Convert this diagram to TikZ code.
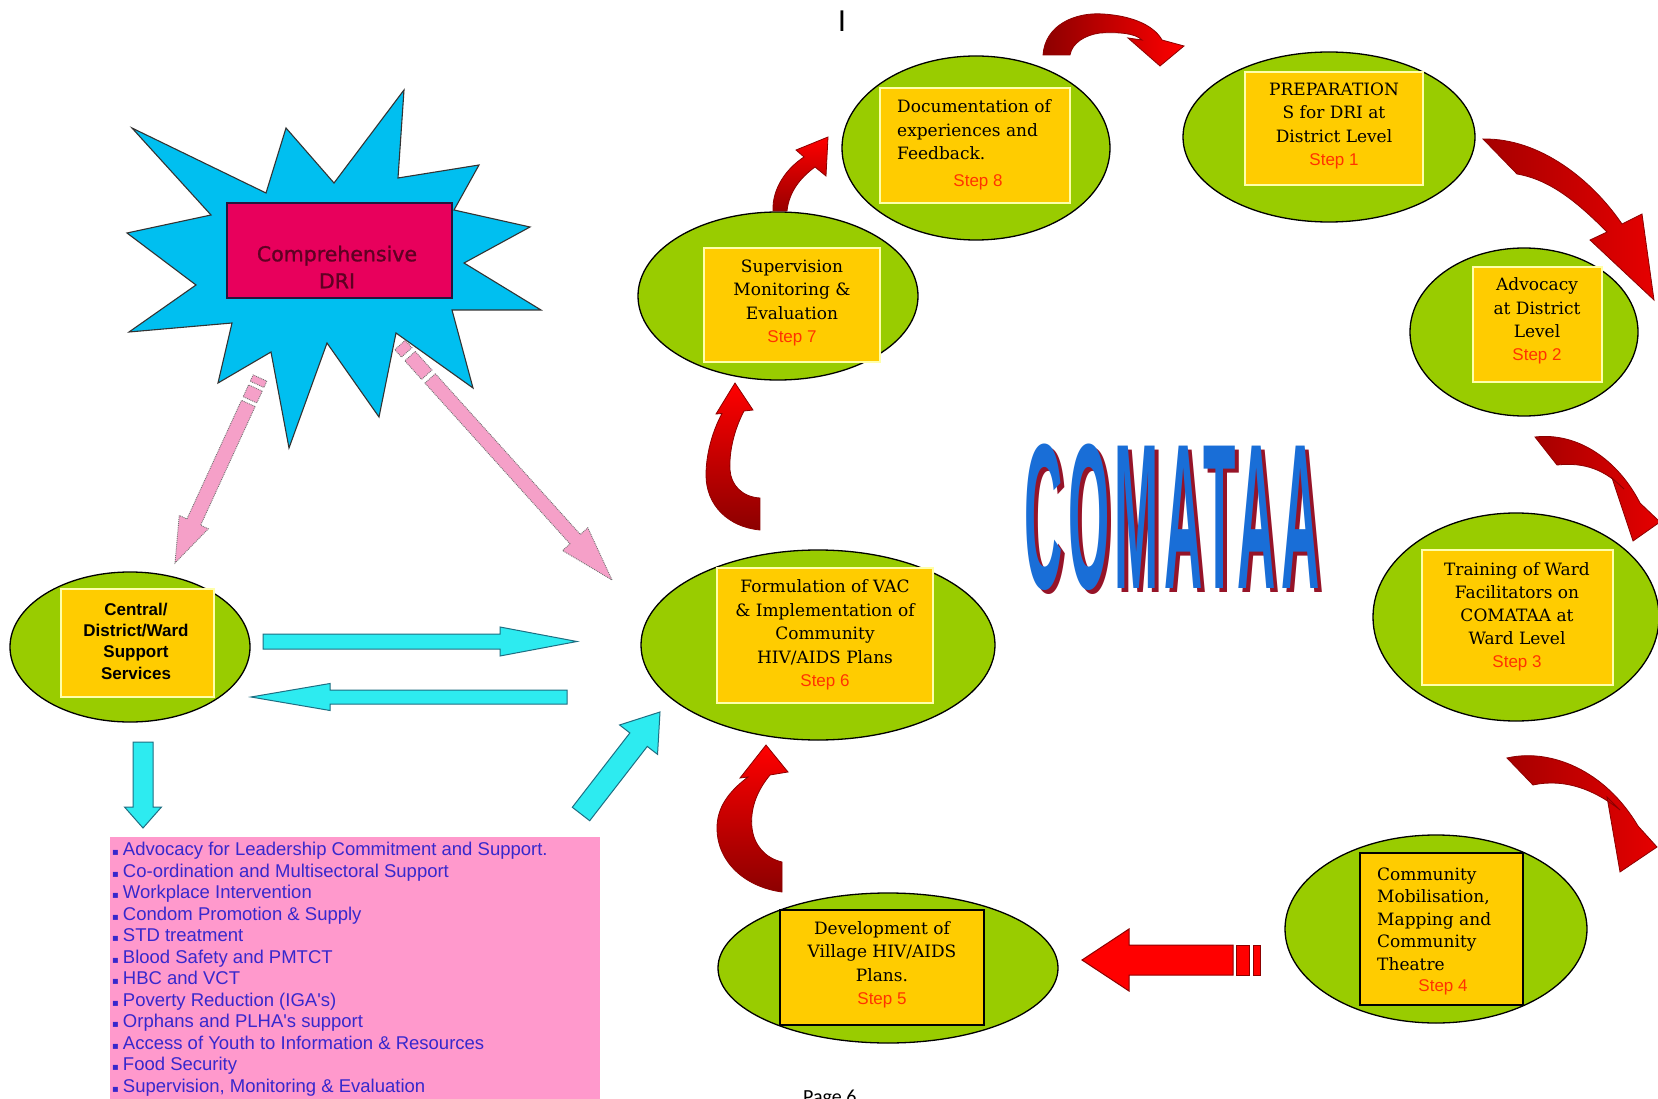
\documentclass[tikz,border=0pt]{standalone}
\usepackage{fontspec}
\usepackage{graphicx}
\setmainfont{DejaVu Serif}
\newfontfamily\lsans{Liberation Sans}
\newfontfamily\dsans{DejaVu Sans}
\newfontfamily\dsansfb{DejaVu Sans}[FakeBold=1.2]
\newfontfamily\comfont{Liberation Sans}[LetterSpace=10]
\newfontfamily\carl{Carlito}
\usetikzlibrary{calc,shapes.geometric}
\definecolor{cGreen}{RGB}{153,204,0}
\definecolor{cYel}{RGB}{255,204,0}
\definecolor{cYelBd}{RGB}{255,255,170}
\definecolor{cStep}{RGB}{255,51,0}
\definecolor{cBurst}{RGB}{0,191,240}
\definecolor{cDri}{RGB}{232,0,92}
\definecolor{cDriTxt}{RGB}{95,0,35}
\definecolor{cPinkArr}{RGB}{245,160,200}
\definecolor{cCyan}{RGB}{45,235,240}
\definecolor{cCyanBd}{RGB}{30,110,130}
\definecolor{cList}{RGB}{255,153,204}
\definecolor{cListTxt}{RGB}{55,40,205}
\definecolor{cBlue}{RGB}{25,110,215}
\definecolor{cShadow}{RGB}{150,20,40}
\definecolor{cRedBd}{RGB}{140,0,0}
\newcommand\stp[1]{{\lsans\color{cStep}Step #1}}
\newcommand\bul{{\dsans\fontsize{10}{10}\selectfont ▪}\hspace{4pt}}
% #1 style, #2 start, #3 tip, #4 shaft half width, #5 head half width, #6 head length
\newcommand\blockarrow[6]{%
  \path ($(#3)!#6!(#2)$) coordinate (hb);
  \path[#1] ($(#2)!#4!90:(#3)$) -- ($(hb)!#4!90:(#3)$) -- ($(hb)!#5!90:(#3)$) -- (#3)
    -- ($(hb)!#5!-90:(#3)$) -- ($(hb)!#4!-90:(#3)$) -- ($(#2)!#4!-90:(#3)$) -- cycle;}
% #1 style, #2 start, #3 direction point, #4 d1, #5 d2, #6 half width
\newcommand\pseg[6]{%
  \path ($(#2)!#4!(#3)$) coordinate (sa) ($(#2)!#5!(#3)$) coordinate (sb);
  \path[#1] ($(sa)!#6!90:(#3)$) -- ($(sb)!#6!90:(#3)$) -- ($(sb)!#6!-90:(#3)$) -- ($(sa)!#6!-90:(#3)$) -- cycle;}
\begin{document}
\begin{tikzpicture}[x=1pt,y=-1pt,
  ell/.style={ellipse, draw=black, line width=1.3pt, fill=cGreen, inner sep=0pt},
  ybox/.style={draw=cYelBd, line width=1.6pt, fill=cYel, inner sep=0pt},
  kbox/.style={draw=black, line width=1.3pt, fill=cYel, inner sep=0pt},
  stxt/.style={font=\fontsize{17}{23.5}\selectfont, align=center, inner sep=0pt, text=black},
  pinkarr/.style={fill=cPinkArr, draw=black!55, densely dotted, line width=0.9pt},
  cyanarr/.style={fill=cCyan, draw=cCyanBd, line width=1pt},
  redarr/.style={draw=cRedBd, line width=0.8pt},
  redsolid/.style={fill=red, draw=cRedBd, line width=1pt},
  burst/.style={fill=cBurst, draw=black!80, line width=1.1pt}]
\useasboundingbox (0,0) rectangle (1658,1099);
\fill[white] (0,0) rectangle (1658,1099);

% ---------- starburst ----------
\path[burst] (132,128) -- (266,193) -- (286,128) -- (334,183) -- (404,90) -- (398,178)
  -- (479,165) -- (454,210) -- (530,227) -- (464,263) -- (541,310) -- (452,310)
  -- (473,388) -- (396,333) -- (379,417) -- (327,343) -- (289,448) -- (271,352)
  -- (218,383) -- (232,323) -- (129,332) -- (196,285) -- (127,233) -- (211,215) -- cycle;
\node[draw={rgb,255:red,40;green,20;blue,60}, line width=1.2pt, fill=cDri, minimum width=225pt, minimum height=95pt, inner sep=0pt] (dri) at (339.5,250.5) {};
\node[font=\dsansfb\fontsize{20.5}{27}\selectfont, text=cDriTxt, align=center, inner sep=0pt] (drit) at (337,267) {Comprehensive\\DRI};

% ---------- pink arrows ----------
\coordinate (pl0) at (260,378); \coordinate (pl1) at (175,563);
\pseg{pinkarr}{pl0}{pl1}{0pt}{7pt}{7.5pt}
\pseg{pinkarr}{pl0}{pl1}{11pt}{24pt}{7.5pt}
\path ($(pl0)!28pt!(pl1)$) coordinate (pl2);
\blockarrow{pinkarr}{pl2}{pl1}{7.5pt}{16pt}{45pt}
\coordinate (pr0) at (400,345); \coordinate (pr1) at (612,580);
\pseg{pinkarr}{pr0}{pr1}{0pt}{10pt}{7pt}
\pseg{pinkarr}{pr0}{pr1}{15pt}{40pt}{7pt}
\path ($(pr0)!45pt!(pr1)$) coordinate (pr2);
\blockarrow{pinkarr}{pr2}{pr1}{7pt}{17pt}{55pt}

% ---------- central ellipse ----------
\node[ell, minimum width=240pt, minimum height=150pt] (central) at (130,647) {};
\node[ybox, minimum width=153pt, minimum height=108pt] (centralbox) at (137.5,643) {};
\node[font=\lsans\bfseries\fontsize{17}{21.3}\selectfont, align=center, inner sep=0pt] (centralt) at (136,641) {Central/\\District/Ward\\Support\\Services};

% ---------- cyan arrows ----------
\coordinate (ca1s) at (263,641.5); \coordinate (ca1t) at (577,641.5);
\blockarrow{cyanarr}{ca1s}{ca1t}{7.5pt}{14.5pt}{77pt}
\coordinate (ca2s) at (567,697); \coordinate (ca2t) at (251,697);
\blockarrow{cyanarr}{ca2s}{ca2t}{7pt}{13.5pt}{79pt}
\coordinate (ca3s) at (143,742); \coordinate (ca3t) at (143,828);
\blockarrow{cyanarr}{ca3s}{ca3t}{10pt}{18.5pt}{21pt}
\coordinate (ca4s) at (581,814); \coordinate (ca4t) at (660,712);
\blockarrow{cyanarr}{ca4s}{ca4t}{11pt}{24pt}{35pt}

% ---------- pink list ----------
\node[fill=cList, minimum width=490pt, minimum height=263pt, inner sep=0pt] (listbg) at (355,968.5) {};
\node[anchor=north west, inner sep=0pt, align=left, font=\lsans\fontsize{18.5}{21.5}\selectfont, text=cListTxt] (list) at (112,842) {%
\bul Advocacy for Leadership Commitment and Support.\\
\bul Co-ordination and Multisectoral Support\\
\bul Workplace Intervention\\
\bul Condom Promotion \& Supply\\
\bul STD treatment\\
\bul Blood Safety and PMTCT\\
\bul HBC and VCT\\
\bul Poverty Reduction (IGA's)\\
\bul Orphans and PLHA's support\\
\bul Access of Youth to Information \& Resources\\
\bul Food Security\\
\bul Supervision, Monitoring \& Evaluation};

% ---------- cycle ellipses ----------
\node[ell, minimum width=292pt, minimum height=170pt] (prep) at (1329,137) {};
\node[ybox, minimum width=178pt, minimum height=113pt] (prepbox) at (1334,128.5) {};
\node[stxt] (prept) at (1334,126) {PREPARATION\\S for DRI at\\District Level\\\stp{1}};

\node[ell, minimum width=228pt, minimum height=168pt] (adv) at (1524,332) {};
\node[ybox, minimum width=129pt, minimum height=115pt] (advbox) at (1537.5,324.5) {};
\node[stxt, font=\fontsize{17}{23.3}\selectfont] (advt) at (1537,321) {Advocacy\\at District\\Level\\\stp{2}};

\node[ell, minimum width=286pt, minimum height=208pt] (train) at (1516,617) {};
\node[ybox, minimum width=191pt, minimum height=135pt] (trainbox) at (1517.5,617.5) {};
\node[stxt, font=\fontsize{17}{23}\selectfont] (traint) at (1517,617) {Training of Ward\\Facilitators on\\COMATAA at\\Ward Level\\\stp{3}};

\node[ell, minimum width=302pt, minimum height=188pt] (comm) at (1436,929) {};
\node[kbox, minimum width=163pt, minimum height=152pt] (commbox) at (1441.5,929) {};
\node[stxt, font=\fontsize{17}{22.5}\selectfont, align=left, anchor=west] (commt) at (1377,919) {Community\\Mobilisation,\\Mapping and\\Community\\Theatre};
\node[stxt] (comms) at (1443,987) {\stp{4}};

\node[ell, minimum width=340pt, minimum height=150pt] (dev) at (888,968) {};
\node[kbox, minimum width=204pt, minimum height=115pt] (devbox) at (882,967.5) {};
\node[stxt] (devt) at (882,965) {Development of\\Village HIV/AIDS\\Plans.\\\stp{5}};

\node[ell, minimum width=354pt, minimum height=190pt] (form) at (818,645) {};
\node[ybox, minimum width=216pt, minimum height=135pt] (formbox) at (825,635.5) {};
\node[stxt] (formt) at (825,635) {Formulation of VAC\\\& Implementation of\\Community\\HIV/AIDS Plans\\\stp{6}};

\node[ell, minimum width=280pt, minimum height=168pt] (sup) at (778,296) {};
\node[ybox, minimum width=176pt, minimum height=114pt] (supbox) at (792,305) {};
\node[stxt] (supt) at (792,303) {Supervision\\Monitoring \&\\Evaluation\\\stp{7}};

\node[ell, minimum width=268pt, minimum height=184pt] (doc) at (976,148) {};
\node[ybox, minimum width=190pt, minimum height=115pt] (docbox) at (975,145.5) {};
\node[stxt, align=left, anchor=west] (doct) at (897,130) {Documentation of\\experiences and\\Feedback.};
\node[stxt] (docs) at (978,182) {\stp{8}};

% ---------- red arrows ----------
% Doc -> Prep
\path[redarr, left color=red!55!black, right color=red]
 (1043,55) .. controls (1045,25) and (1075,12) .. (1103,14)
 .. controls (1135,16) and (1155,27) .. (1162,40)
 -- (1184,46) -- (1160,66) -- (1128,38) -- (1142,40)
 .. controls (1135,33) and (1118,32) .. (1100,33)
 .. controls (1085,35) and (1072,43) .. (1070,55) -- cycle;
% Prep -> Adv
\path[redarr, left color=red!65!black, right color=red!90!black]
 (1483,139) .. controls (1540,138) and (1592,180) .. (1622,224)
 -- (1642,214) -- (1654,300) -- (1590,240) -- (1607,232)
 .. controls (1580,205) and (1552,180) .. (1517,174) -- cycle;
% Adv -> Train
\path[redarr, left color=red!65!black, right color=red!90!black]
 (1535,437) .. controls (1578,432) and (1618,460) .. (1640,503)
 -- (1660,522) -- (1633,541) -- (1612,478) -- (1624,489)
 .. controls (1605,470) and (1585,462) .. (1557,465) -- cycle;
% Train -> Comm
\path[redarr, left color=red!65!black, right color=red!90!black]
 (1507,758) .. controls (1550,748) and (1605,770) .. (1638,826)
 -- (1657,847) -- (1620,872) -- (1607,797) -- (1620,810)
 .. controls (1595,790) and (1565,778) .. (1533,785) -- cycle;
% Comm -> Dev (straight)
\coordinate (eas) at (1233,960); \coordinate (eat) at (1082,960);
\blockarrow{redsolid}{eas}{eat}{15pt}{31pt}{47pt}
\path[redsolid] (1236,945) rectangle (1249,975);
\path[redsolid] (1253,945) rectangle (1260,975);
% Dev -> Form
\path[redarr, top color=red, bottom color=red!55!black]
 (782,892) .. controls (745,887) and (717,862) .. (717,828)
 .. controls (717,808) and (728,792) .. (748,777)
 -- (740,778) -- (766,745) -- (788,772) -- (770,775)
 .. controls (756,792) and (750,810) .. (752,828)
 .. controls (754,845) and (765,858) .. (782,862) -- cycle;
% Form -> Sup
\path[redarr, top color=red, bottom color=red!55!black]
 (760,530) .. controls (728,527) and (706,505) .. (706,475)
 .. controls (706,455) and (712,432) .. (722,413.5)
 -- (716,414) -- (735,383) -- (753,410) -- (744,411)
 .. controls (734,430) and (729,452) .. (730,470)
 .. controls (731,485) and (742,497) .. (760,498) -- cycle;
% Sup -> Doc
\path[redarr, top color=red, bottom color=red!60!black]
 (773,211) .. controls (772,188) and (787,168) .. (804,157)
 -- (796,150) -- (828,137) -- (826,176) -- (815,167)
 .. controls (800,178) and (789,192) .. (787,211) -- cycle;

% ---------- COMATAA (blue with red shadow) ----------
\node[inner sep=0pt, font=\comfont\bfseries\fontsize{100}{100}\selectfont] (com) at (1172,519)
  {\scalebox{0.53}[2.07]{\rlap{\hspace{7.5pt}\raisebox{-2pt}{\color{cShadow}COMATAA}}\color{cBlue}COMATAA}};

% ---------- stray texts ----------
\node[font=\lsans\fontsize{30}{30}\selectfont, anchor=base, inner sep=0pt] (cursor) at (842,32) {I};
\node[font=\carl\fontsize{20}{20}\selectfont, anchor=base west, inner sep=0pt] (page) at (803,1103) {Page 6};
\end{tikzpicture}
\end{document}
